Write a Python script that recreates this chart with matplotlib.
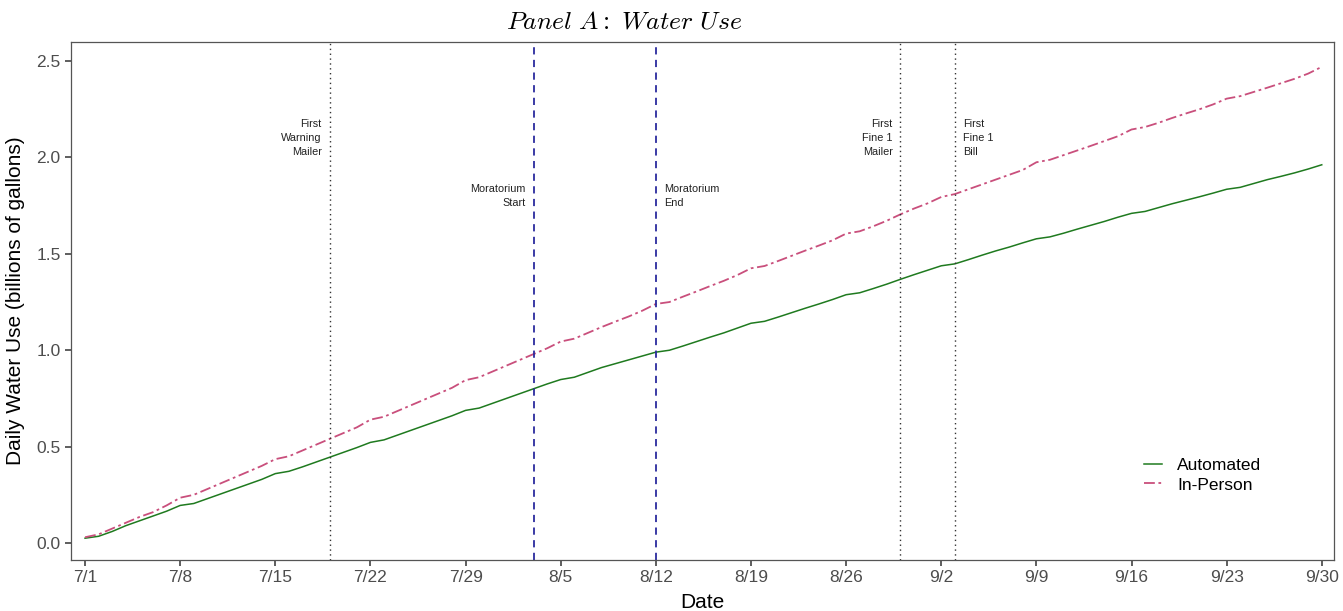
import numpy as np
import pandas as pd
import matplotlib
matplotlib.use("Agg")
import matplotlib.pyplot as plt

plt.rcParams['font.family'] = ['Liberation Sans', 'DejaVu Sans']
plt.rcParams['mathtext.fontset'] = 'cm'

# Data (billions of gallons), daily from 7/1 to 9/30
dates = pd.date_range("2015-07-01", "2015-09-30", freq="D")

automated = [
    0.025, 0.035, 0.060, 0.090, 0.115, 0.140, 0.165,
    0.195, 0.205, 0.230, 0.255, 0.280, 0.305, 0.330,
    0.360, 0.372, 0.395, 0.420, 0.445, 0.470, 0.495,
    0.522, 0.535, 0.560, 0.585, 0.610, 0.635, 0.660,
    0.688, 0.700, 0.725, 0.750, 0.775, 0.800, 0.825,
    0.848, 0.860, 0.885, 0.910, 0.930, 0.950, 0.970,
    0.990, 1.000, 1.022, 1.045, 1.068, 1.090, 1.115,
    1.140, 1.150, 1.172, 1.195, 1.218, 1.240, 1.263,
    1.288, 1.298, 1.320, 1.343, 1.368, 1.392, 1.415,
    1.438, 1.448, 1.470, 1.493, 1.515, 1.535, 1.557,
    1.578, 1.588, 1.607, 1.628, 1.648, 1.668, 1.690,
    1.710, 1.720, 1.740, 1.760, 1.778, 1.796, 1.815,
    1.835, 1.845, 1.865, 1.885, 1.902, 1.920, 1.940,
    1.962,
]

in_person = [
    0.030, 0.045, 0.075, 0.105, 0.135, 0.160, 0.195,
    0.235, 0.250, 0.280, 0.310, 0.340, 0.370, 0.400,
    0.435, 0.450, 0.480, 0.510, 0.540, 0.570, 0.600,
    0.640, 0.655, 0.685, 0.715, 0.745, 0.775, 0.805,
    0.845, 0.860, 0.890, 0.920, 0.950, 0.980, 1.010,
    1.045, 1.060, 1.090, 1.120, 1.148, 1.175, 1.205,
    1.240, 1.250, 1.278, 1.305, 1.333, 1.360, 1.390,
    1.425, 1.437, 1.463, 1.490, 1.517, 1.543, 1.570,
    1.605, 1.617, 1.643, 1.672, 1.705, 1.735, 1.762,
    1.795, 1.810, 1.835, 1.860, 1.885, 1.910, 1.935,
    1.975, 1.988, 2.012, 2.036, 2.060, 2.085, 2.110,
    2.145, 2.158, 2.180, 2.205, 2.228, 2.250, 2.275,
    2.305, 2.318, 2.340, 2.362, 2.385, 2.408, 2.435,
    2.470,
]

# Events
event_dates = ["2015-07-19", "2015-08-03", "2015-08-12", "2015-08-30", "2015-09-03"]
event_labels = ["First\nWarning\nMailer", "Moratorium\nStart", "Moratorium\nEnd",
                "First\nFine 1\nMailer", "First\nFine 1\nBill"]
event_sides = ["left", "left", "right", "left", "right"]
event_kinds = ["dotted", "dashed", "dashed", "dotted", "dotted"]
event_text_y = [2.10, 1.80, 1.80, 2.10, 2.10]

tick_dates = pd.date_range("2015-07-01", "2015-09-30", freq="7D")

fig = plt.figure(figsize=(13.43, 6.11), dpi=100)
ax = fig.add_axes([0.0529, 0.0835, 0.9404, 0.8478])

ax.plot(dates, automated, color="#1f7a1f", lw=1.1, label="Automated")
ax.plot(dates, in_person, color="#c94f7c", lw=1.3, dashes=(6, 2, 1.5, 2),
        label="In-Person")

for d, lab, side, kind, ty in zip(event_dates, event_labels, event_sides,
                                  event_kinds, event_text_y):
    d = pd.Timestamp(d)
    if kind == "dashed":
        ax.axvline(d, color="#2b2b9e", lw=1.3, ls=(0, (4, 3)))
    else:
        ax.axvline(d, color="#333333", lw=1.0, ls=(0, (1, 2.5)))
    off = pd.Timedelta(hours=14)
    if side == "left":
        ax.text(d - off, ty, lab, ha="right", va="center", fontsize=7.8,
                color="#222222", linespacing=1.5)
    else:
        ax.text(d + off, ty, lab, ha="left", va="center", fontsize=7.8,
                color="#222222", linespacing=1.5)

ax.set_xlim(pd.Timestamp("2015-07-01") - pd.Timedelta(days=1.03),
            pd.Timestamp("2015-09-30") + pd.Timedelta(days=0.9))
ax.set_ylim(-0.088, 2.599)
ax.set_xticks(tick_dates)
ax.set_xticklabels([f"{d.month}/{d.day}" for d in tick_dates])
ax.set_yticks([0.0, 0.5, 1.0, 1.5, 2.0, 2.5])
ax.set_yticklabels(["0.0", "0.5", "1.0", "1.5", "2.0", "2.5"])

ax.tick_params(axis="both", direction="out", length=4, width=1.1,
               color="#333333", labelsize=12.5, labelcolor="#4d4d4d")
ax.tick_params(axis="x", pad=3)
for s in ax.spines.values():
    s.set_color("#555555")
    s.set_linewidth(0.9)

ax.set_xlabel("Date", fontsize=15, labelpad=6)
ax.set_ylabel("Daily Water Use (billions of gallons)", fontsize=15, labelpad=8)
fig.text(0.465, 0.965, r"$\mathit{Panel\ A{:}\ Water\ Use}$", fontsize=18.5,
         ha="center", va="center")

ax.legend(loc="lower right", bbox_to_anchor=(0.955, 0.10), frameon=False,
          fontsize=12.5, handlelength=1.0, handletextpad=0.9, labelspacing=0.25)

fig.savefig("out.png", dpi=100)
